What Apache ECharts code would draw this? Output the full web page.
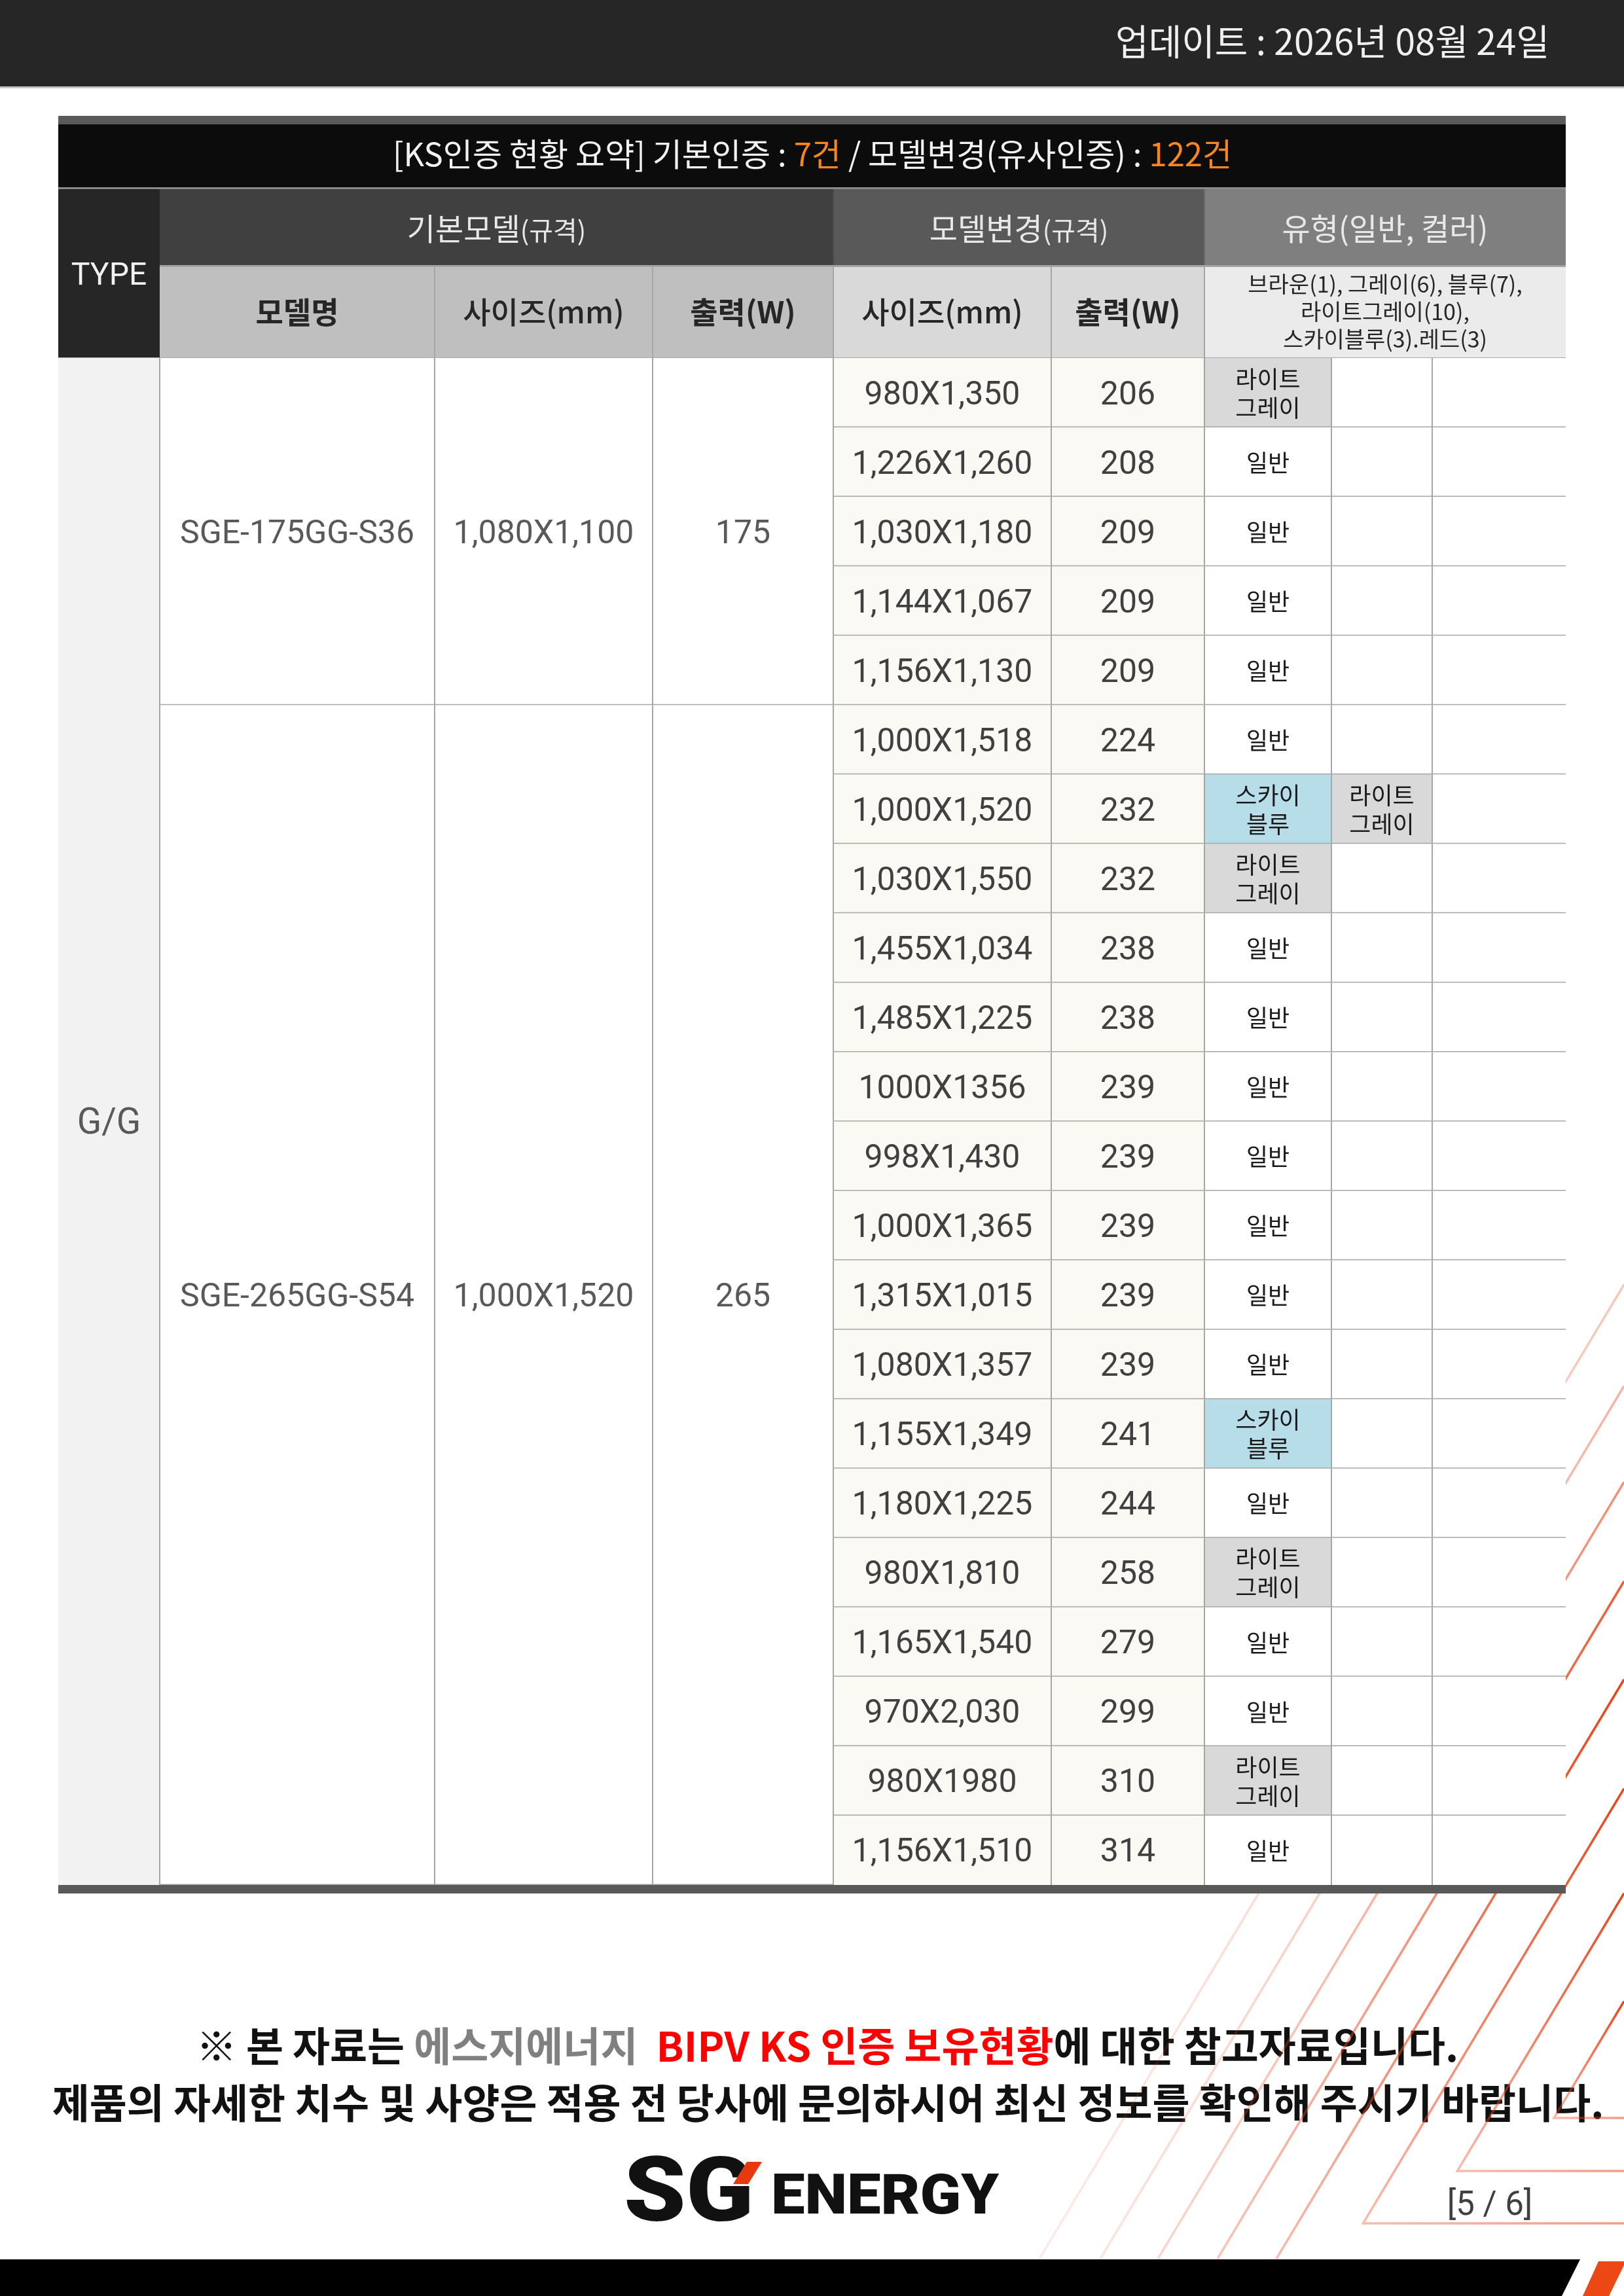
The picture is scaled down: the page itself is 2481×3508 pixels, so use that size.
<!DOCTYPE html>
<html>
<head>
<meta charset="utf-8">
<title>KS 인증 현황</title>
<script src="https://cdn.jsdelivr.net/npm/echarts@6/dist/echarts.min.js"></script>
<style>
  html, body { margin: 0; padding: 0; background: #fff; }
  #chart { width: 2481px; height: 3508px; }
</style>
</head>
<body>
<div id="chart"></div>
<script>
// ---- data ----
var updateDate = '2026년 08월 24일';
var basicCount = '7건';
var changeCount = '122건';
var productType = 'G/G';

var baseModels = ['SGE-175GG-S36', 'SGE-265GG-S54'];
var baseSizes = ['1,080X1,100', '1,000X1,520'];
var basePowers = [175, 265];
var baseRowCounts = [5, 17];

var changeSizes = ['980X1,350', '1,226X1,260', '1,030X1,180', '1,144X1,067', '1,156X1,130',
    '1,000X1,518', '1,000X1,520', '1,030X1,550', '1,455X1,034', '1,485X1,225', '1000X1356',
    '998X1,430', '1,000X1,365', '1,315X1,015', '1,080X1,357', '1,155X1,349', '1,180X1,225',
    '980X1,810', '1,165X1,540', '970X2,030', '980X1980', '1,156X1,510'];
var changePowers = [206, 208, 209, 209, 209, 224, 232, 232, 238, 238, 239, 239, 239, 239, 239,
    241, 244, 258, 279, 299, 310, 314];
var typeFirst = ['라이트그레이', '일반', '일반', '일반', '일반', '일반', '스카이블루', '라이트그레이',
    '일반', '일반', '일반', '일반', '일반', '일반', '일반', '스카이블루', '일반', '라이트그레이',
    '일반', '일반', '라이트그레이', '일반'];
var typeSecond = ['', '', '', '', '', '', '라이트그레이', '', '', '', '', '', '', '', '', '', '', '',
    '', '', '', ''];

var headerTop = [['기본모델', '(규격)'], ['모델변경', '(규격)'], ['유형(일반, 컬러)', '']];
var headerSub = ['모델명', '사이즈(mm)', '출력(W)', '사이즈(mm)', '출력(W)'];
var colorSummary = ['브라운(1), 그레이(6), 블루(7),', '라이트그레이(10),', '스카이블루(3).레드(3)'];
var pageLabel = '[5 / 6]';

// ---- layout / style ----
var CJK = '"Noto Sans CJK KR", "Noto Sans", sans-serif';
var LAT = 'Roboto, "Noto Sans CJK KR", sans-serif';
var tableLeft = 89, tableRight = 2392;
var colEdges = [0, 155, 575, 908, 1184, 1517, 1751, 1945, 2099, 2303]; // offsets from tableLeft
var bodyTop = 547, bodyBottom = 2880;
var gridColor = '#a6a6a6';
var latNudge = 5; // Roboto sits a little high on a middle baseline
var typeFill = { '일반': '#ffffff', '라이트그레이': '#d9d9d9', '스카이블루': '#b7dde8' };
var typeLabel = { '일반': '일반', '라이트그레이': '라이트\n그레이', '스카이블루': '스카이\n블루' };

function X(k) { return tableLeft + colEdges[k]; }

function rect(x, y, w, h, fill, z) {
    return { type: 'rect', shape: { x: x, y: y, width: w, height: h }, style: { fill: fill }, z: z || 0, silent: true };
}
function text(x, y, str, font, fill, align, z, extra) {
    var st = { text: str, x: x, y: y, font: font, fill: fill, align: align || 'center',
        verticalAlign: 'middle', textAlign: align || 'center', textVerticalAlign: 'middle' };
    if (extra) for (var key in extra) st[key] = extra[key];
    return { type: 'text', style: st, z: z || 0, silent: true };
}
function seg(x1, y1, x2, y2, color, w, z) {
    return { type: 'line', shape: { x1: x1, y1: y1, x2: x2, y2: y2 }, style: { stroke: color, lineWidth: w }, z: z || 0, silent: true };
}

// ---- static page pieces ----
var graphics = [];
// top bar
graphics.push(rect(0, 0, 2481, 132, '#262626'));
graphics.push(rect(0, 132, 2481, 3, '#c4c4c4'));
graphics.push(text(2367, 63, '업데이트 : ' + updateDate, 'normal 55px ' + CJK, '#f0f0f0', 'right'));

// title row
graphics.push(rect(tableLeft, 177, tableRight - tableLeft, 13, '#5a5a5a'));
graphics.push(rect(tableLeft, 190, tableRight - tableLeft, 96, '#0c0c0c'));
graphics.push(rect(tableLeft, 286, tableRight - tableLeft, 3, '#8a8a8a'));
graphics.push(text(1241, 235,
    '{w|[KS인증 현황 요약] 기본인증 : }{o|' + basicCount + '}{w| / 모델변경(유사인증) : }{o|' + changeCount + '}',
    'normal 49px ' + CJK, '#f2f2f2', 'center', 0, {
        rich: {
            w: { font: 'normal 49px ' + CJK, fill: '#f2f2f2' },
            o: { font: 'normal 49px ' + CJK, fill: '#f7861f' }
        }
    }));

// header row 1
graphics.push(rect(tableLeft, 289, X(1) - tableLeft, 260, '#262626'));
graphics.push(text((tableLeft + X(1)) / 2, 418 + latNudge, 'TYPE', 'normal 48px ' + LAT, '#f2f2f2'));
var topSpans = [[1, 4, '#404040'], [4, 6, '#595959'], [6, 9, '#7f7f7f']];
topSpans.forEach(function (s, j) {
    graphics.push(rect(X(s[0]), 289, X(s[1]) - X(s[0]), 116, s[2]));
    var label = '{m|' + headerTop[j][0] + '}' + (headerTop[j][1] ? '{s|' + headerTop[j][1] + '}' : '');
    graphics.push(text((X(s[0]) + X(s[1])) / 2, 349, label, 'normal 47px ' + CJK, '#e8e8e8', 'center', 0, {
        rich: {
            m: { font: 'normal 47px ' + CJK, fill: '#e8e8e8' },
            s: { font: 'normal 40px ' + CJK, fill: '#e8e8e8', padding: [6, 0, 0, 0] }
        }
    }));
});
graphics.push(seg(X(4), 289, X(4), 405, '#4a4a4a', 2));
graphics.push(seg(X(6), 289, X(6), 405, '#6a6a6a', 2));
graphics.push(rect(X(1), 405, X(9) - X(1), 3, '#a3a3a3'));

// header row 2
var subFill = ['#bfbfbf', '#bfbfbf', '#bfbfbf', '#d9d9d9', '#d9d9d9'];
var subWeight = ['bold', '500', 'bold', '500', 'bold'];
headerSub.forEach(function (lab, j) {
    graphics.push(rect(X(j + 1), 408, X(j + 2) - X(j + 1), 138, subFill[j]));
    graphics.push(text((X(j + 1) + X(j + 2)) / 2, 477, lab, subWeight[j] + ' 46px ' + CJK, '#262626'));
});
graphics.push(rect(X(6), 408, X(9) - X(6), 138, '#ebebeb'));
graphics.push(text((X(6) + X(9)) / 2, 476, colorSummary.join('\n'), 'normal 34px ' + CJK, '#262626', 'center', 0,
    { lineHeight: 42 }));
[2, 3, 4, 5, 6].forEach(function (k) {
    graphics.push(seg(X(k), 408, X(k), 546, gridColor, 2));
});
graphics.push(rect(tableLeft, 546, tableRight - tableLeft, 3, '#a8a8a8'));

// bottom thick rule of the table (over the series)
graphics.push(rect(tableLeft, bodyBottom, tableRight - tableLeft, 13, '#595959', 10));

// footer notice
graphics.push(text(1264, 3126,
    '{b|※ 본 자료는 }{g|에스지에너지}{b|  }{r|BIPV KS 인증 보유현황}{b|에 대한 참고자료입니다.}',
    'bold 62px ' + CJK, '#111', 'center', 0, {
        rich: {
            b: { font: 'bold 62px ' + CJK, fill: '#111111' },
            g: { font: 'bold 62px ' + CJK, fill: '#808080' },
            r: { font: 'bold 62px ' + CJK, fill: '#ff0000' }
        }
    }));
graphics.push(text(1265, 3213, '제품의 자세한 치수 및 사양은 적용 전 당사에 문의하시어 최신 정보를 확인해 주시기 바랍니다.',
    'bold 62px ' + CJK, '#111111'));

// decorative diagonal strokes (behind the table, over the footer text)
var stripeFoot = [1588, 1681, 1769, 1860, 1950, 2050, 2146, 2245];
var stripeTurn = [null, null, null, null, null, 3397, 3317, 3236];
var stripeAlpha = [0.3, 0.4, 0.6, 0.85, 1, 1, 1, 1];
stripeFoot.forEach(function (fx, j) {
    var yBase = 3451, slope = 0.6;
    var topY = yBase - (2481 - fx) / slope;
    var pts;
    if (stripeTurn[j]) {
        var ty = stripeTurn[j], tx = fx + (yBase - ty) * slope;
        pts = [[2481, topY], [tx, ty], [2481, ty]];
    } else {
        pts = [[2481, topY], [fx, yBase]];
    }
    var a = stripeAlpha[j];
    graphics.push({
        type: 'polyline', shape: { points: pts }, z: 1, silent: true,
        style: {
            fill: null, lineWidth: 3.5,
            stroke: new echarts.graphic.LinearGradient(0, 1, 1, 0, [
                { offset: 0, color: 'rgba(232,66,24,' + (a * 0.35) + ')' },
                { offset: 1, color: 'rgba(232,66,24,' + a + ')' }
            ])
        }
    });
});

// logo
graphics.push({ type: 'text', x: 953, y: 3358, scaleX: 1.1, z: 2, silent: true,
    style: { text: 'SG', x: 0, y: 0, font: '900 138px ' + LAT, fill: '#111111',
        align: 'left', verticalAlign: 'middle', textAlign: 'left', textVerticalAlign: 'middle' } });
graphics.push({ type: 'polygon', shape: { points: [[1141, 3303], [1164, 3303], [1143, 3337], [1120, 3337]] },
    style: { fill: '#e8380d' }, z: 3, silent: true });
graphics.push({ type: 'text', x: 1178, y: 3360, scaleX: 1.07, z: 2, silent: true,
    style: { text: 'ENERGY', x: 0, y: 0, font: '900 86px ' + LAT, fill: '#111111',
        align: 'left', verticalAlign: 'middle', textAlign: 'left', textVerticalAlign: 'middle' } });
graphics.push(text(2276, 3366 + latNudge, pageLabel, 'normal 51px ' + LAT, '#404040', 'center', 2));

// bottom band
graphics.push({ type: 'polygon', shape: { points: [[0, 3452], [2414, 3452], [2386, 3508], [0, 3508]] },
    style: { fill: '#000000' }, z: 2, silent: true });
graphics.push({ type: 'polygon', shape: { points: [[2442, 3455], [2484, 3455], [2458, 3508], [2418, 3508]] },
    style: { fill: '#ee4716' }, z: 2, silent: true });

// ---- table body through the cartesian scales ----
var rowData = changeSizes.map(function (s, i) { return [0, i]; });
var groupData = [];
var start = 0;
baseRowCounts.forEach(function (n, g) {
    groupData.push([0, start, start + n - 1, g]);
    start += n;
});

function renderType(params, api) {
    var h = api.size([0, 1])[1];
    var y0 = api.coord([0, api.value(1)])[1] - h / 2;
    var y1 = api.coord([0, api.value(2)])[1] + h / 2;
    var x0 = api.coord([colEdges[0], 0])[0], x1 = api.coord([colEdges[1], 0])[0];
    return { type: 'group', children: [
        rect(x0, y0, x1 - x0, y1 - y0, '#f2f2f2'),
        text((x0 + x1) / 2, (y0 + y1) / 2 + latNudge, productType, 'normal 55px ' + LAT, '#595959')
    ] };
}

function renderGroup(params, api) {
    var g = api.value(3);
    var h = api.size([0, 1])[1];
    var y0 = api.coord([0, api.value(1)])[1] - h / 2;
    var y1 = api.coord([0, api.value(2)])[1] + h / 2;
    var xs = [1, 2, 3, 4].map(function (k) { return api.coord([colEdges[k], 0])[0]; });
    var cy = (y0 + y1) / 2 + latNudge;
    var font = 'normal 50px ' + LAT;
    var kids = [rect(xs[0], y0, xs[3] - xs[0], y1 - y0, '#ffffff')];
    kids.push(text((xs[0] + xs[1]) / 2, cy, baseModels[g], font, '#595959'));
    kids.push(text((xs[1] + xs[2]) / 2, cy, baseSizes[g], font, '#595959'));
    kids.push(text((xs[2] + xs[3]) / 2, cy, String(basePowers[g]), font, '#595959'));
    [0, 1, 2].forEach(function (k) { kids.push(seg(xs[k], y0, xs[k], y1, gridColor, 2)); });
    kids.push(seg(xs[0], y1, xs[3], y1, gridColor, 3));
    return { type: 'group', children: kids };
}

function renderRow(params, api) {
    var i = api.value(1);
    var mid = api.coord([0, i])[1];
    var h = api.size([0, 1])[1];
    var top = mid - h / 2, bottom = mid + h / 2;
    var xs = colEdges.map(function (e) { return api.coord([e, i])[0]; });
    var kids = [];
    kids.push(rect(xs[4], top, xs[6] - xs[4], h, '#fbf9f4'));
    var types = [typeFirst[i], typeSecond[i], ''];
    types.forEach(function (t, k) {
        var a = xs[6 + k], b = xs[7 + k];
        kids.push(rect(a, top, b - a, h, typeFill[t] || '#ffffff'));
        if (t) {
            kids.push(text((a + b) / 2, mid + 1, typeLabel[t], 'normal 36px ' + CJK, '#1a1a1a', 'center', 0,
                { lineHeight: 44 }));
        }
    });
    kids.push(text((xs[4] + xs[5]) / 2, mid + latNudge, changeSizes[i], 'normal 50px ' + LAT, '#404040'));
    kids.push(text((xs[5] + xs[6]) / 2, mid + latNudge, String(changePowers[i]), 'normal 50px ' + LAT, '#404040'));
    [4, 5, 6, 7, 8].forEach(function (k) { kids.push(seg(xs[k], top, xs[k], bottom, gridColor, 2)); });
    if (i < changeSizes.length - 1) kids.push(seg(xs[4], bottom, xs[9], bottom, gridColor, 3));
    return { type: 'group', children: kids };
}

var chart = echarts.init(document.getElementById('chart'), null, { renderer: 'canvas' });
var option = {
    animation: false,
    backgroundColor: '#ffffff',
    grid: { left: tableLeft, top: bodyTop, width: tableRight - tableLeft, height: bodyBottom - bodyTop },
    xAxis: { type: 'value', min: 0, max: colEdges[colEdges.length - 1], show: false },
    yAxis: { type: 'category', data: changeSizes, inverse: true, show: false },
    graphic: { elements: graphics },
    series: [
        { type: 'custom', name: 'type', renderItem: renderType, data: [[0, 0, changeSizes.length - 1]],
          encode: { x: 0, y: 1 }, silent: true },
        { type: 'custom', name: 'base', renderItem: renderGroup, data: groupData,
          encode: { x: 0, y: 1 }, silent: true },
        { type: 'custom', name: 'changes', renderItem: renderRow, data: rowData,
          encode: { x: 0, y: 1 }, silent: true }
    ]
};
chart.setOption(option);
</script>
</body>
</html>
